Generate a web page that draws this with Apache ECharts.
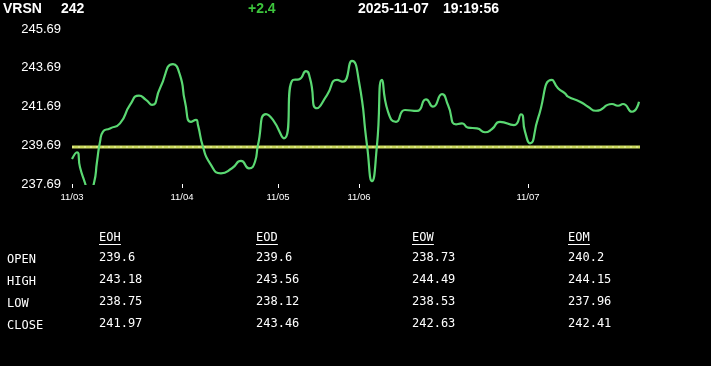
<!DOCTYPE html>
<html>
<head>
<meta charset="utf-8">
<style>
  html, body { margin: 0; padding: 0; background: #000; }
  #chart { width: 711px; height: 366px; }
</style>
<script src="https://cdn.jsdelivr.net/npm/echarts@6/dist/echarts.min.js"></script>
</head>
<body>
<div id="chart"></div>
<script>
// ---- header ----
const symbol = 'VRSN';
const lastPrice = '242';
const change = '+2.4';
const dateText = '2025-11-07';
const timeText = '19:19:56';

// ---- x axis (time-step index) ----
const dayLabels = ['11/03', '11/04', '11/05', '11/06', '11/07'];
const dayStarts = [0, 110, 206, 287, 456];
const stepMax = 568;

// ---- y axis ----
const yTicks = [237.69, 239.69, 241.69, 243.69, 245.69];

// ---- price series ----
const steps = [0, 5, 8, 13, 17, 22, 25, 28, 31, 38, 48, 58, 67, 74, 80, 88, 101, 108, 113, 119,
  124, 126, 131, 138, 149, 160, 169, 177, 183, 186, 194, 201, 212, 221, 227, 234, 238, 245, 255, 265,
  271, 280, 287, 295, 300, 305, 310, 316, 324, 333, 345, 354, 361, 370, 376, 384, 390, 396, 405, 413,
  420, 428, 442, 449, 453, 458, 466, 480, 486, 493, 496, 508, 516, 524, 540, 546, 551, 560, 567];
const prices = [238.98, 239.33, 238.55, 237.74, 237.1, 237.74, 238.84, 239.87, 240.39, 240.56, 240.82, 241.77, 242.25, 242.03, 241.77, 242.63, 243.88, 243.31, 241.94, 240.9,
  241.0, 240.73, 239.61, 238.76, 238.24, 238.5, 238.88, 238.5, 238.84, 239.7, 241.3, 241.0, 240.05, 243.06, 243.09, 243.52, 243.14, 241.6, 242.28, 243.06,
  242.97, 244.04, 242.97, 239.7, 237.84, 239.7, 243.06, 241.42, 240.9, 241.51, 241.46, 242.06, 241.68, 242.33, 241.77, 240.77, 240.82, 240.6, 240.56, 240.36,
  240.53, 240.9, 240.73, 241.29, 240.39, 239.79, 241.08, 243.06, 242.63, 242.37, 242.2, 241.94, 241.68, 241.47, 241.82, 241.73, 241.82, 241.42, 241.94];

// ---- reference line (open) ----
const openLevel = 239.6;

// ---- table ----
const rowLabels = ['OPEN', 'HIGH', 'LOW', 'CLOSE'];
const colHeaders = ['EOH', 'EOD', 'EOW', 'EOM'];
const colEOH = ['239.6', '243.18', '238.75', '241.97'];
const colEOD = ['239.6', '243.56', '238.12', '243.46'];
const colEOW = ['238.73', '244.49', '238.53', '242.63'];
const colEOM = ['240.2', '244.15', '237.96', '242.41'];
const columns = [colEOH, colEOD, colEOW, colEOM];

const chart = echarts.init(document.getElementById('chart'), null, { renderer: 'canvas' });

const lineData = steps.map((s, i) => [s, prices[i]]);

// graphic elements for header and table
const sansBold = 'bold 14px "Liberation Sans", Arial, sans-serif';
const mono = '12px "DejaVu Sans Mono", monospace';
const graphics = [
  { type: 'text', left: 3, top: 2, style: { text: symbol, font: sansBold, fill: '#ffffff' } },
  { type: 'text', left: 61, top: 2, style: { text: lastPrice, font: sansBold, fill: '#ffffff' } },
  { type: 'text', left: 248, top: 2, style: { text: change, font: sansBold, fill: '#3cc43c' } },
  { type: 'text', left: 358, top: 2, style: { text: dateText, font: sansBold, fill: '#ffffff' } },
  { type: 'text', left: 443, top: 2, style: { text: timeText, font: sansBold, fill: '#ffffff' } }
];
const colX = [99, 256, 412, 568];
const rowY = [258, 280, 302, 324];
const headerY = 238;
colHeaders.forEach((h, c) => {
  graphics.push({ type: 'text', x: colX[c], y: headerY, style: { text: h, font: mono, fill: '#ffffff', textVerticalAlign: 'middle' } });
  graphics.push({ type: 'line', shape: { x1: colX[c], y1: headerY + 6.5, x2: colX[c] + h.length * 7.3, y2: headerY + 6.5 }, style: { stroke: '#ffffff', lineWidth: 1 } });
});
rowLabels.forEach((r, i) => {
  graphics.push({ type: 'text', x: 7, y: rowY[i] + 1.5, style: { text: r, font: mono, fill: '#ffffff', textVerticalAlign: 'middle' } });
  columns.forEach((col, c) => {
    graphics.push({ type: 'text', x: colX[c], y: rowY[i], style: { text: col[i], font: mono, fill: '#ffffff', textVerticalAlign: 'middle' } });
  });
});

chart.setOption({
  backgroundColor: '#000000',
  animation: false,
  grid: { left: 72, right: 71, top: 29, bottom: 182 },
  xAxis: {
    type: 'value',
    min: 0,
    max: stepMax,
    axisLine: { show: false },
    splitLine: { show: false },
    axisTick: { show: true, customValues: dayStarts, length: 4, inside: false, lineStyle: { color: '#ffffff', width: 1 } },
    axisLabel: {
      customValues: dayStarts,
      color: '#ffffff',
      fontSize: 9.5,
      fontFamily: '"Liberation Sans", Arial, sans-serif',
      margin: 8,
      formatter: v => dayLabels[dayStarts.indexOf(v)] || ''
    }
  },
  yAxis: {
    type: 'value',
    min: yTicks[0],
    max: yTicks[yTicks.length - 1],
    axisLine: { show: false },
    axisTick: { show: false },
    splitLine: { show: false },
    axisLabel: {
      customValues: yTicks,
      color: '#ffffff',
      fontSize: 13,
      fontFamily: '"Liberation Sans", Arial, sans-serif',
      margin: 11,
      formatter: v => v.toFixed(2)
    }
  },
  series: [
    {
      type: 'line',
      data: [[0, openLevel], [stepMax, openLevel]],
      symbol: 'none',
      lineStyle: { color: '#c9d85c', width: 3 },
      silent: true,
      z: 1
    },
    {
      type: 'line',
      data: [[0, openLevel], [stepMax, openLevel]],
      symbol: 'none',
      lineStyle: { color: '#eef5b0', width: 1, type: [2, 4] },
      silent: true,
      z: 2
    },
    {
      type: 'line',
      data: lineData,
      symbol: 'none',
      smooth: 0.6,
      clip: true,
      lineStyle: { color: '#5ad872', width: 2.2 },
      z: 3
    }
  ],
  graphic: graphics
});
</script>
</body>
</html>
